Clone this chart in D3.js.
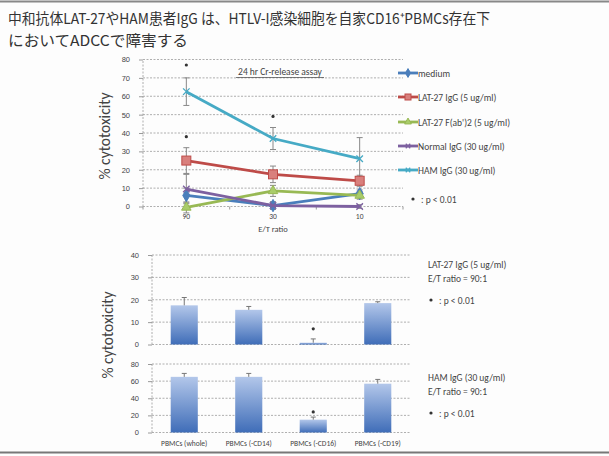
<!DOCTYPE html>
<html>
<head>
<meta charset="utf-8">
<script src="https://cdn.jsdelivr.net/npm/d3@7"></script>
<style>
  html, body { margin: 0; padding: 0; background: #fdfdfd; }
  svg { display: block; font-family: Carlito, "Open Sans", "Noto Sans", sans-serif; }
</style>
</head>
<body>
<svg id="chart" width="609" height="456"></svg>
<script>
// ---- top line chart: % cytotoxicity by E/T ratio ----
const ratios = ["90", "30", "10"];
const seriesNames = ["medium", "LAT-27 IgG (5 ug/ml)", "LAT-27 F(ab')2 (5 ug/ml)", "Normal IgG (30 ug/ml)", "HAM IgG (30 ug/ml)"];
const mediumVals = [6, 0.5, 7];
const lat27Vals = [25, 17.5, 14];
const fabVals = [-0.5, 8.5, 6];
const normalVals = [9.5, 0.5, 0];
const hamVals = [62.5, 37, 26];
const mediumErr = [4, 2, 2];
const lat27Err = [7, 4.5, 3];
const fabErr = [3, 3, 2];
const normalErr = [8, 2, 1];
const hamErr = [7.5, 6, 11.5];
const topStars = [[0, 77], [0, 38], [1, 49]];
const topTicks = [0, 10, 20, 30, 40, 50, 60, 70, 80];

// ---- bottom bar charts: depleted PBMC fractions ----
const fractions = ["PBMCs (whole)", "PBMCs (-CD14)", "PBMCs (-CD16)", "PBMCs (-CD19)"];
const lat27Bars = [17.5, 15.5, 0.8, 18.5];
const lat27BarErr = [3.5, 1.5, 1.7, 0.6];
const hamBars = [65, 65, 15, 57];
const hamBarErr = [4, 4, 3, 5];
const lat27BarTicks = [0, 10, 20, 30, 40];
const hamBarTicks = [0, 20, 40, 60, 80];

const svg = d3.select("#chart");
const gridColor = "#9a9a9a";
const textColor = "#444";

// frame lines
svg.append("line").attr("x1", 0).attr("x2", 609).attr("y1", 1.5).attr("y2", 1.5).attr("stroke", "#888").attr("stroke-width", 2);
svg.append("line").attr("x1", 0).attr("x2", 609).attr("y1", 452.5).attr("y2", 452.5).attr("stroke", "#777").attr("stroke-width", 2);

// heading (two lines)
svg.append("text").attr("x", 8).attr("y", 24).attr("fill", "#333").attr("font-size", 15)
  .attr("font-family", "'Noto Sans CJK JP', sans-serif")
  .attr("textLength", 482).attr("lengthAdjust", "spacingAndGlyphs")
  .text("中和抗体LAT-27やHAM患者IgG は、HTLV-I感染細胞を自家CD16⁺PBMCs存在下");
svg.append("text").attr("x", 8).attr("y", 46).attr("fill", "#333").attr("font-size", 15)
  .attr("font-family", "'Noto Sans CJK JP', sans-serif")
  .attr("textLength", 180).attr("lengthAdjust", "spacingAndGlyphs")
  .text("においてADCCで障害する");

function gridAxis(g, y, ticks, x0, x1) {
  ticks.forEach(t => {
    g.append("line").attr("x1", x0).attr("x2", x1).attr("y1", y(t)).attr("y2", y(t))
      .attr("stroke", gridColor).attr("stroke-width", 0.8).attr("stroke-dasharray", "2,1.5");
  });
  g.append("line").attr("x1", x0).attr("x2", x0).attr("y1", y(ticks[0])).attr("y2", y(ticks[ticks.length - 1]))
    .attr("stroke", gridColor).attr("stroke-width", 0.8).attr("stroke-dasharray", "2,1.5");
  const ax = g.append("g").attr("transform", `translate(${x0},0)`)
    .call(d3.axisLeft(y).tickValues(ticks).tickSize(4).tickPadding(9));
  ax.select(".domain").remove();
  ax.selectAll("line").attr("stroke", gridColor);
  ax.selectAll("text").attr("fill", textColor).attr("font-size", 7.5);
}

function star(g, px, py) {
  g.append("circle").attr("cx", px).attr("cy", py).attr("r", 1.6).attr("fill", "#333");
}

// ---------- top chart ----------
const colors = ["#4a7ebb", "#be4b48", "#98b954", "#7d60a0", "#46aac5"];
function marker(gg, s, px, py, size) {
  const c = colors[s];
  if (s === 0) gg.append("path").attr("d", d3.symbol(d3.symbolDiamond, size * size * 0.9)()).attr("transform", `translate(${px},${py})`).attr("fill", c).attr("stroke", c);
  else if (s === 1) gg.append("rect").attr("x", px - size / 2).attr("y", py - size / 2).attr("width", size).attr("height", size).attr("fill", "#d9807d").attr("stroke", c);
  else if (s === 2) gg.append("path").attr("d", d3.symbol(d3.symbolTriangle, size * size * 0.8)()).attr("transform", `translate(${px},${py})`).attr("fill", "#a9cc6a").attr("stroke", c);
  else gg.append("path").attr("d", d3.symbol(d3.symbolX, size * size * 0.6)()).attr("transform", `translate(${px},${py})`).attr("fill", "none").attr("stroke", c).attr("stroke-width", 1.3);
}
{
  const g = svg.append("g");
  const x = d3.scaleBand().domain(ratios).range([143, 403]);
  const y = d3.scaleLinear().domain([0, 80]).range([206.5, 59.5]);
  gridAxis(g, y, topTicks, 143, 403);
  ratios.forEach(r => {
    const cx = x(r) + x.bandwidth() / 2;
    g.append("text").attr("x", cx).attr("y", 219).attr("text-anchor", "middle")
      .attr("font-size", 7.5).attr("fill", textColor).text(r);
  });
  [143, 229.7, 316.3, 403].forEach(px => g.append("line").attr("x1", px).attr("x2", px)
    .attr("y1", y(0)).attr("y2", y(0) + 3).attr("stroke", gridColor));
  g.append("text").attr("x", 273).attr("y", 232).attr("text-anchor", "middle")
    .attr("font-size", 8.5).attr("fill", textColor).text("E/T ratio");
  g.append("text").attr("transform", "translate(110,136) rotate(-90)").attr("text-anchor", "middle")
    .attr("font-size", 15.5).attr("fill", textColor).text("% cytotoxicity");
  g.append("text").attr("x", 280).attr("y", 75).attr("text-anchor", "middle")
    .attr("font-size", 9.5).attr("fill", textColor).text("24 hr Cr-release assay");
  g.append("line").attr("x1", 236).attr("x2", 324).attr("y1", 77.5).attr("y2", 77.5).attr("stroke", textColor).attr("stroke-width", 0.7);

  const vals = [mediumVals, lat27Vals, fabVals, normalVals, hamVals];
  const errs = [mediumErr, lat27Err, fabErr, normalErr, hamErr];
  const cx = i => x(ratios[i]) + x.bandwidth() / 2;

  vals.forEach((v, s) => {
    v.forEach((d, i) => {
      const e = errs[s][i];
      g.append("line").attr("x1", cx(i)).attr("x2", cx(i)).attr("y1", y(d - e)).attr("y2", y(d + e))
        .attr("stroke", "#888").attr("stroke-width", 1);
      [d - e, d + e].forEach(t => g.append("line").attr("x1", cx(i) - 3).attr("x2", cx(i) + 3)
        .attr("y1", y(t)).attr("y2", y(t)).attr("stroke", "#888").attr("stroke-width", 1));
    });
  });

  const line = d3.line().x((d, i) => cx(i)).y(d => y(d));
  vals.forEach((v, s) => {
    g.append("path").attr("d", line(v)).attr("fill", "none").attr("stroke", colors[s]).attr("stroke-width", 2.8);
    v.forEach((d, i) => marker(g, s, cx(i), y(d), s === 1 ? 9 : 7));
  });
  topStars.forEach(([i, v]) => star(g, cx(i), y(v)));

  // legend
  const lg = svg.append("g");
  const ly = [73, 97, 122, 146, 170];
  seriesNames.forEach((n, s) => {
    lg.append("line").attr("x1", 398).attr("x2", 418).attr("y1", ly[s]).attr("y2", ly[s]).attr("stroke", colors[s]).attr("stroke-width", 2.8);
    marker(lg, s, 408, ly[s], s === 1 ? 6 : 5);
    lg.append("text").attr("x", 418).attr("y", ly[s] + 3.5).attr("font-size", 9.5).attr("fill", textColor).text(n);
  });
  star(lg, 413, 199);
  lg.append("text").attr("x", 421).attr("y", 203).attr("font-size", 9.5).attr("fill", textColor).text(": p < 0.01");
}

// ---------- bottom bar charts ----------
const defs = svg.append("defs");
const grad = defs.append("linearGradient").attr("id", "barGrad").attr("x1", 0).attr("x2", 0).attr("y1", 0).attr("y2", 1);
grad.append("stop").attr("offset", "0%").attr("stop-color", "#b3c7ea");
grad.append("stop").attr("offset", "100%").attr("stop-color", "#3f6db8");

const xb = d3.scaleBand().domain(fractions).range([152, 410]).paddingInner(0.58).paddingOuter(0.29);

function barChart(vals, errs, ticks, yTop, yBot, starVal, notes, noteY) {
  const g = svg.append("g");
  const y = d3.scaleLinear().domain([ticks[0], ticks[ticks.length - 1]]).range([yBot, yTop]);
  gridAxis(g, y, ticks, 152, 410);
  g.selectAll("rect.bar").data(vals).join("rect").attr("class", "bar")
    .attr("x", (d, i) => xb(fractions[i])).attr("width", xb.bandwidth())
    .attr("y", d => y(d)).attr("height", d => y(0) - y(d)).attr("fill", "url(#barGrad)");
  vals.forEach((d, i) => {
    const c = xb(fractions[i]) + xb.bandwidth() / 2;
    g.append("line").attr("x1", c).attr("x2", c).attr("y1", y(d)).attr("y2", y(d + errs[i])).attr("stroke", "#777");
    g.append("line").attr("x1", c - 2.5).attr("x2", c + 2.5).attr("y1", y(d + errs[i])).attr("y2", y(d + errs[i])).attr("stroke", "#777");
  });
  star(g, xb(fractions[2]) + xb.bandwidth() / 2, y(starVal));
  notes.forEach((t, k) => g.append("text").attr("x", 428).attr("y", noteY + k * 13.5).attr("font-size", 9.5).attr("fill", textColor).text(t));
  star(g, 431, noteY + 32);
  g.append("text").attr("x", 439).attr("y", noteY + 36).attr("font-size", 9.5).attr("fill", textColor).text(": p < 0.01");
  return g;
}
barChart(lat27Bars, lat27BarErr, lat27BarTicks, 255, 344.5, 7, ["LAT-27 IgG (5 ug/ml)", "E/T ratio = 90:1"], 268);
barChart(hamBars, hamBarErr, hamBarTicks, 364, 432.5, 24, ["HAM IgG (30 ug/ml)", "E/T ratio = 90:1"], 381);

fractions.forEach(f => svg.append("text").attr("x", xb(f) + xb.bandwidth() / 2).attr("y", 446)
  .attr("text-anchor", "middle").attr("font-size", 7.5).attr("fill", textColor).text(f));
svg.append("text").attr("transform", "translate(113,335) rotate(-90)").attr("text-anchor", "middle")
  .attr("font-size", 15.5).attr("fill", textColor).text("% cytotoxicity");
</script>
</body>
</html>
